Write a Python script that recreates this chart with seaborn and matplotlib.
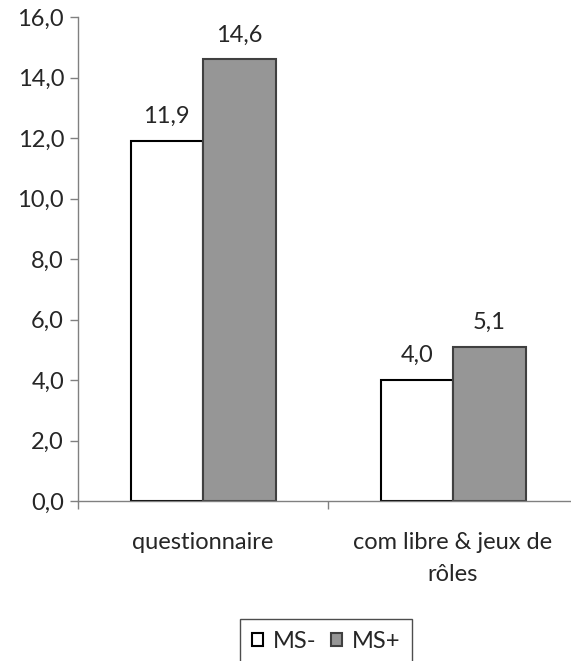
import numpy as np
import pandas as pd
import matplotlib
matplotlib.use("Agg")
import matplotlib.pyplot as plt
from matplotlib.ticker import FuncFormatter, FixedLocator
from matplotlib.patches import Patch
import seaborn as sns

# données
categories = ["questionnaire", "com libre & jeux de\nrôles"]
groupes = ["MS-", "MS+"]
ms_moins = [11.9, 4.0]
ms_plus = [14.6, 5.1]

df = pd.DataFrame({
    "categorie": categories * 2,
    "groupe": [groupes[0]] * 2 + [groupes[1]] * 2,
    "valeur": ms_moins + ms_plus,
})

sns.set_theme(style="white")
plt.rcParams["font.family"] = ["Lato", "DejaVu Sans"]
TAILLE = 17

couleurs = {"MS-": "#ffffff", "MS+": "#969696"}
bords = {"MS-": "#000000", "MS+": "#404040"}

fig = plt.figure(figsize=(5.71, 6.61), dpi=100)
ax = fig.add_axes([78 / 571, 1 - 501 / 661, 500 / 571, (501 - 17) / 661])

sns.barplot(data=df, x="categorie", y="valeur", hue="groupe",
            palette=couleurs, width=0.58, gap=0, ax=ax, legend=False,
            saturation=1)

for cont, g in zip(ax.containers, groupes):
    for p in cont:
        p.set_edgecolor(bords[g])
        p.set_linewidth(1.5)
    ax.bar_label(cont, labels=[f"{v:.1f}".replace(".", ",") for v in cont.datavalues],
                 padding=10, fontsize=TAILLE)

ax.set_xlim(-0.5, 1.5)
ax.set_ylim(0, 16)
ax.yaxis.set_major_locator(FixedLocator(np.arange(0, 17, 2)))
ax.yaxis.set_major_formatter(FuncFormatter(lambda v, _: f"{v:.1f}".replace(".", ",")))
ax.tick_params(axis="y", length=6, width=1, color="#808080", direction="out",
               left=True, labelsize=TAILLE, pad=4)
ax.tick_params(axis="x", which="major", length=0, labelsize=TAILLE, pad=22)
for t in ax.get_xticklabels():
    t.set_linespacing(1.65)
ax.set_xticks([-0.5, 0.5, 1.5], minor=True)
ax.tick_params(axis="x", which="minor", length=6, width=1, color="#808080",
               direction="out", bottom=True)
ax.set_xlabel("")
ax.set_ylabel("")

for s in ["top", "right"]:
    ax.spines[s].set_visible(False)
for s in ["left", "bottom"]:
    ax.spines[s].set_color("#808080")
    ax.spines[s].set_linewidth(1)

poignees = [Patch(facecolor=couleurs[g], edgecolor=bords[g], label=g, linewidth=1.5)
            for g in groupes]
fig.legend(handles=poignees, loc="upper center", ncol=2,
           bbox_to_anchor=(326 / 571, 1 - 619 / 661), bbox_transform=fig.transFigure,
           frameon=True, fancybox=False, edgecolor="#202020", fontsize=TAILLE,
           handlelength=0.5, handleheight=0.5, handletextpad=0.4, columnspacing=0.6,
           borderpad=0.5, borderaxespad=0)

fig.savefig("out.png", dpi=100)
